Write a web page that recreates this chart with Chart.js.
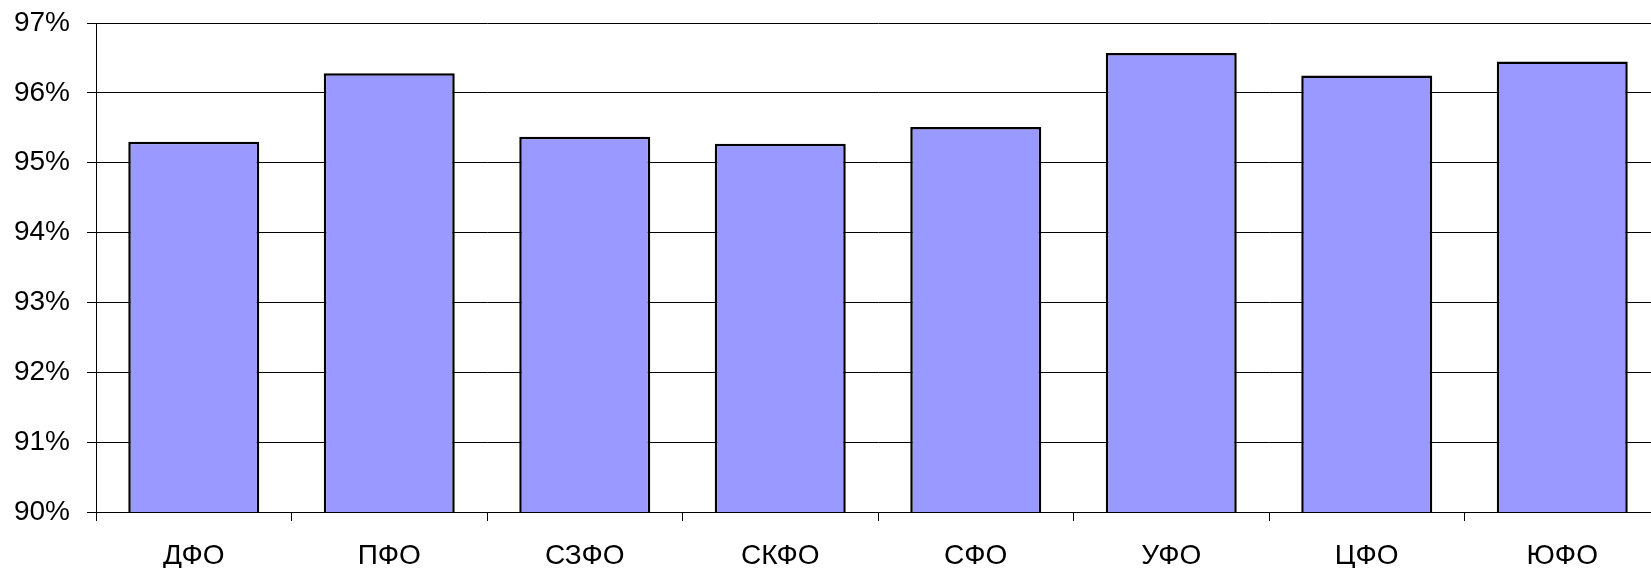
<!DOCTYPE html>
<html>
<head>
<meta charset="utf-8">
<script src="https://cdn.jsdelivr.net/npm/chart.js@4"></script>
<style>
  html, body { margin: 0; padding: 0; background: #fff; overflow: hidden; }
  #wrap { width: 1660px; height: 568px; }
</style>
</head>
<body>
<div id="wrap"><canvas id="chart" width="1660" height="568"></canvas></div>
<script>
const regions = ['ДФО', 'ПФО', 'СЗФО', 'СКФО', 'СФО', 'УФО', 'ЦФО', 'ЮФО'];
const shares = [95.30, 96.28, 95.37, 95.27, 95.51, 96.57, 96.25, 96.45];
const yTicks = [90, 91, 92, 93, 94, 95, 96, 97];

const font = { family: '"Liberation Sans", Arial, sans-serif', size: 28 };

new Chart(document.getElementById('chart').getContext('2d'), {
  type: 'bar',
  data: {
    labels: regions,
    datasets: [{
      data: shares,
      backgroundColor: '#9999ff',
      borderColor: '#000',
      borderWidth: 2.5,
      borderSkipped: false,
      categoryPercentage: 1,
      barPercentage: 0.67
    }]
  },
  options: {
    responsive: false,
    animation: false,
    layout: { padding: { top: 23, right: 0, left: 0, bottom: 0 } },
    plugins: { legend: { display: false }, tooltip: { enabled: false } },
    scales: {
      x: {
        grid: { drawOnChartArea: false, drawTicks: true, tickLength: 9, color: '#000', offset: true },
        border: { color: '#000', width: 1 },
        ticks: { color: '#000', font, padding: 18, maxRotation: 0 },
        afterFit: (s) => { s.height = 56; }
      },
      y: {
        min: 90,
        max: 97,
        afterBuildTicks: (s) => { s.ticks = yTicks.map(v => ({ value: v })); },
        grid: { color: '#000', lineWidth: 1, tickLength: 9 },
        border: { color: '#000', width: 1 },
        ticks: { color: '#000', font, padding: 17, callback: v => v + '%' },
        afterFit: (s) => { s.width = 96; s.paddingTop = 0; s.paddingBottom = 0; }
      }
    }
  }
});
</script>
</body>
</html>
